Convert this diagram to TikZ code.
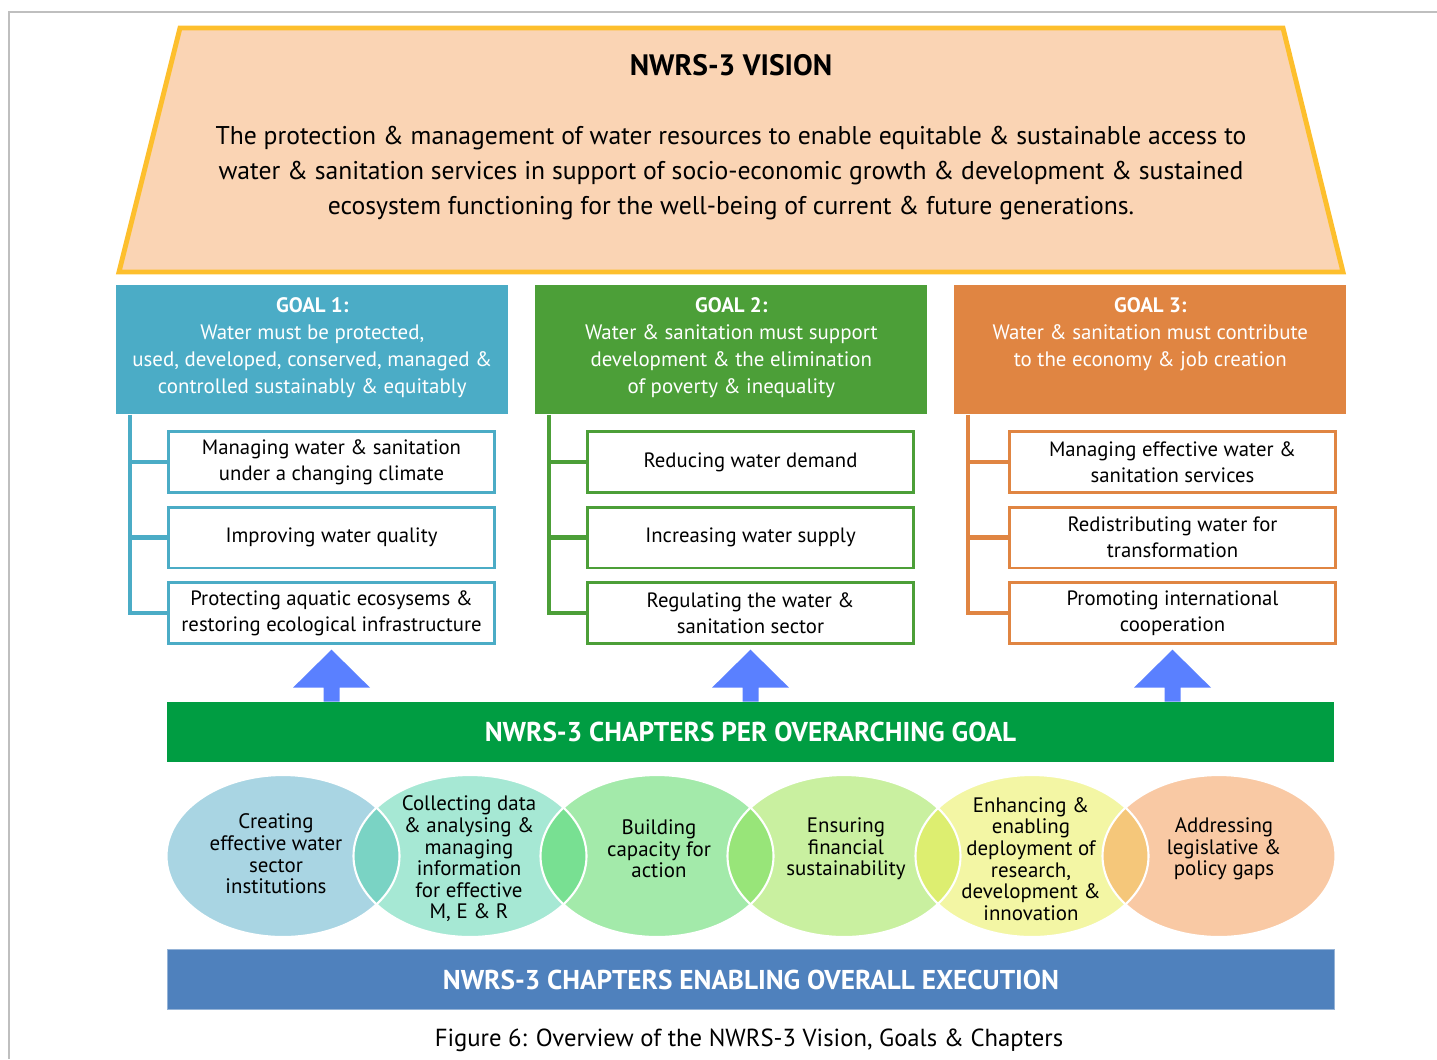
\documentclass[tikz,border=0pt]{standalone}
\usepackage{fontspec}
\setmainfont{PT Sans}
\usetikzlibrary{positioning, calc}

\definecolor{frameGray}{HTML}{BFBFBF}
\definecolor{visionFill}{HTML}{FAD4B4}
\definecolor{visionEdge}{HTML}{FDBF2D}
\definecolor{goalA}{HTML}{4BACC6}
\definecolor{goalB}{HTML}{4C9F38}
\definecolor{goalC}{HTML}{E08542}
\definecolor{barGreen}{HTML}{009D42}
\definecolor{barBlue}{HTML}{4F81BD}
\definecolor{arrowBlue}{HTML}{5A80FF}
\definecolor{chA}{HTML}{A9D5E3}
\definecolor{chB}{HTML}{A6E8D4}
\definecolor{chC}{HTML}{A3EAAA}
\definecolor{chD}{HTML}{C9F0A0}
\definecolor{chE}{HTML}{F3F6A4}
\definecolor{chF}{HTML}{F9C9A4}
\definecolor{lensAB}{HTML}{7AD3C4}
\definecolor{lensBC}{HTML}{78E092}
\definecolor{lensCD}{HTML}{98E579}
\definecolor{lensDE}{HTML}{DDEE70}
\definecolor{lensEF}{HTML}{F5C77A}

\tikzset{
  frameline/.style={frameGray, line width=1.2pt},
  visionframe/.style={draw=visionEdge, fill=visionFill, line width=2.8pt, line join=miter},
  visiontitle/.style={font=\fontsize{16.8}{19}\selectfont\bfseries},
  visiontext/.style={align=center, font=\fontsize{14.6}{20}\selectfont},
  goalbox/.style={rectangle, anchor=north west, minimum width=7.84cm, minimum height=2.58cm, inner sep=0pt},
  goaltext/.style={align=center, text=white, inner sep=0pt, font=\fontsize{11.9}{15.4}\selectfont},
  subbox/.style={draw=#1, line width=1.7pt, fill=white, minimum width=6.52cm, minimum height=1.22cm,
    inner sep=0pt, align=center, font=\fontsize{11.8}{14.8}\selectfont},
  branch/.style={draw=#1, line width=2.3pt},
  uparrow/.style={fill=arrowBlue},
  chapbar/.style={minimum width=23.34cm, minimum height=1.2cm, inner sep=0pt, text=white,
    font=\fontsize{15.5}{18}\selectfont\bfseries},
  chaptext/.style={align=center, inner sep=0pt, font=\fontsize{11.9}{12.3}\selectfont},
  caption/.style={font=\fontsize{14.05}{16}\selectfont}
}

\begin{document}
\begin{tikzpicture}[x=0.02cm, y=-0.02cm]
  \useasboundingbox (0,0) rectangle (1437,1059);

  % page frame
  \draw[frameline] (1437,12) -- (9,12) -- (9,1059);

  % vision
  \draw[visionframe] (180,28) -- (1283,28) -- (1343,272) -- (119,272) -- cycle;
  \node[visiontitle] (vtitle) at (731,65) {NWRS-3 VISION};
  \node[visiontext] (vtext) at (731,173) {The protection \& management of water resources to enable equitable \& sustainable access to\\
    water \& sanitation services in support of socio-economic growth \& development \& sustained\\
    ecosystem functioning for the well-being of current \& future generations.};

  % goals
  \node[goalbox, fill=goalA] (g1) at (116,285) {};
  \node[goalbox, fill=goalB] (g2) at (535,285) {};
  \node[goalbox, fill=goalC] (g3) at (954,285) {};
  \node[goaltext, below=0.25cm of g1.north] (g1t) {\textbf{GOAL 1:}\\ Water must be protected,\\
    used, developed, conserved, managed \&\\ controlled sustainably \& equitably};
  \node[goaltext, below=0.25cm of g2.north] (g2t) {\textbf{GOAL 2:}\\ Water \& sanitation must support\\
    development \& the elimination\\ of poverty \& inequality};
  \node[goaltext, below=0.25cm of g3.north] (g3t) {\textbf{GOAL 3:}\\ Water \& sanitation must contribute\\
    to the economy \& job creation};

  % chapters per goal
  \node[subbox=goalA] (s11) at (331.5,462) {Managing water \& sanitation\\ under a changing climate};
  \node[subbox=goalA] (s12) at (331.5,537.5) {Improving water quality};
  \node[subbox=goalA] (s13) at (331.5,613) {Protecting aquatic ecosysems \&\\ restoring ecological infrastructure};
  \node[subbox=goalB] (s21) at (750.5,462) {Reducing water demand};
  \node[subbox=goalB] (s22) at (750.5,537.5) {Increasing water supply};
  \node[subbox=goalB] (s23) at (750.5,613) {Regulating the water \&\\ sanitation sector};
  \node[subbox=goalC] (s31) at (1172.5,462) {Managing effective water \&\\ sanitation services};
  \node[subbox=goalC] (s32) at (1172.5,537.5) {Redistributing water for\\ transformation};
  \node[subbox=goalC] (s33) at (1172.5,613) {Promoting international\\ cooperation};

  \foreach \g/\s/\c in {g1/s1/goalA, g2/s2/goalB, g3/s3/goalC} {
    \coordinate (t) at ($(\g.south west)+(14,0)$);
    \draw[branch=\c] (t) |- (\s3.west);
    \draw[branch=\c] (t |- \s1.west) -- (\s1.west);
    \draw[branch=\c] (t |- \s2.west) -- (\s2.west);
  }

  % bars
  \node[chapbar, fill=barGreen] (bar) at (750.5,732) {NWRS-3 CHAPTERS PER OVERARCHING GOAL};
  \node[chapbar, fill=barBlue, draw=barBlue!60!white, line width=0.4pt] (base) at (751,979.5)
    {NWRS-3 CHAPTERS ENABLING OVERALL EXECUTION};

  % arrows up to the goals
  \foreach \s in {s13,s23,s33}
    \fill[uparrow] (\s.south |- bar.north) -- ++(-8,0) -- ++(0,-14) -- ++(-30.5,0)
      -- ++(38.5,-38) -- ++(38.5,38) -- ++(-30.5,0) -- ++(0,14) -- cycle;

  % enabling chapters
  \foreach \x/\c in {283/chA, 470/chB, 657/chC, 844/chD, 1032/chE, 1219/chF}
    \fill[\c] (\x,856) ellipse (116.5 and 81);
  \foreach \xa/\xb/\c in {283/470/lensAB, 470/657/lensBC, 657/844/lensCD, 844/1032/lensDE, 1032/1219/lensEF} {
    \begin{scope}
      \clip (\xa,856) ellipse (116.5 and 81);
      \fill[\c] (\xb,856) ellipse (116.5 and 81);
    \end{scope}
  }
  \foreach \x in {283,470,657,844,1032,1219}
    \draw[white, line width=1.2pt] (\x,856) ellipse (116.5 and 81);

  \node[chaptext] (c1) at (276,854) {Creating\\ effective water\\ sector\\ institutions};
  \node[chaptext] (c2) at (469,859) {Collecting data\\ \& analysing \&\\ managing\\ information\\ for effective\\ M, E \& R};
  \node[chaptext] (c3) at (659,849) {Building\\ capacity for\\ action};
  \node[chaptext] (c4) at (846,849) {Ensuring\\ financial\\ sustainability};
  \node[chaptext] (c5) at (1031,859) {Enhancing \&\\ enabling\\ deployment of\\ research,\\ development \&\\ innovation};
  \node[chaptext] (c6) at (1224,849) {Addressing\\ legislative \&\\ policy gaps};

  \node[caption] (cap) at (749,1040) {Figure 6: Overview of the NWRS-3 Vision, Goals \& Chapters};
\end{tikzpicture}
\end{document}
